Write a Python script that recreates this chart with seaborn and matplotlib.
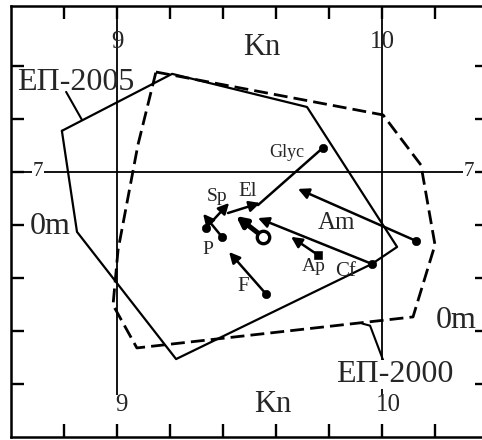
import numpy as np
import pandas as pd
import matplotlib.pyplot as plt
import seaborn as sns

# polygons of the two datasets (Kn on x, Om on y)
ep2005_kn = [8.792, 9.208, 9.717, 10.057, 9.962, 9.223, 8.849]
ep2005_om = [7.155, 7.370, 7.245, 6.717, 6.653, 6.294, 6.774]
ep2000_kn = [9.147, 10.004, 10.147, 10.200, 10.117, 9.075, 8.985, 9.004, 9.079]
ep2000_om = [7.377, 7.215, 7.026, 6.725, 6.453, 6.336, 6.498, 6.706, 7.102]

# shifts of the substances: start -> end
subst = ["Am", "Glyc", "El", "Sp", "P", "Ap", "Cf", "F", "O"]
kn_from = [10.128, 9.777, 9.419, 9.336, 9.396, 9.758, 9.962, 9.562, 9.551]
om_from = [6.740, 7.091, 6.845, 6.789, 6.755, 6.687, 6.653, 6.540, 6.755]
kn_to = [9.683, 9.532, 9.540, 9.423, 9.325, 9.657, 9.532, 9.423, 9.449]
om_to = [6.936, 6.875, 6.883, 6.883, 6.842, 6.755, 6.826, 6.698, 6.834]

x_ticks = [8.8, 9.0, 9.2, 9.4, 9.6, 9.8, 10.0, 10.2, 10.4]
y_ticks = [6.2, 6.4, 6.6, 6.8, 7.0, 7.2, 7.4]

sns.set_style("white")
plt.rcParams['font.family'] = ['Liberation Serif', 'DejaVu Serif']

fig = plt.figure(figsize=(4.82, 4.40), dpi=100)
ax = fig.add_axes([11 / 482, 3 / 440, 477 / 482, 431 / 440])
ax.set_xlim(8.6, 10.4)
ax.set_ylim(6.0, 7.626)

for s in ax.spines.values():
    s.set_color("black")
    s.set_linewidth(1.8)

ax.set_xticks(x_ticks)
ax.set_yticks(y_ticks)
ax.tick_params(direction="in", length=9.5, width=1.7, color="black",
               top=True, bottom=True, left=True, right=True,
               labelbottom=False, labelleft=False)

# reference lines
ax.vlines([9.0, 10.0], 6.16, 7.626, color="black", lw=1.3)
ax.axhline(7.0, color="black", lw=1.3)

# polygons
df05 = pd.DataFrame({"Kn": ep2005_kn + ep2005_kn[:1], "Om": ep2005_om + ep2005_om[:1]})
df00 = pd.DataFrame({"Kn": ep2000_kn + ep2000_kn[:1], "Om": ep2000_om + ep2000_om[:1]})
sns.lineplot(data=df05, x="Kn", y="Om", sort=False, estimator=None, ax=ax,
             color="black", lw=1.6)
sns.lineplot(data=df00, x="Kn", y="Om", sort=False, estimator=None, ax=ax,
             color="black", lw=2.0, linestyle=(0, (5.0, 2.2)))

# arrows
for name, x0, y0, x1, y1 in zip(subst, kn_from, om_from, kn_to, om_to):
    if name == "Glyc":
        ax.plot([x0, x1], [y0, y1], color="black", lw=1.8)
    elif name == "O":
        ax.annotate("", xy=(x1, y1), xytext=(x0, y0),
                    arrowprops=dict(arrowstyle="-|>", color="black", lw=3.6,
                                    mutation_scale=15, shrinkA=5, shrinkB=0))
    else:
        ax.annotate("", xy=(x1, y1), xytext=(x0, y0),
                    arrowprops=dict(arrowstyle="-|>", color="black", lw=1.8,
                                    mutation_scale=16, shrinkA=0, shrinkB=0))

pts = pd.DataFrame({"name": subst, "Kn": kn_from, "Om": om_from})
dots = pts[pts["name"].isin(["Am", "Glyc", "Sp", "P", "Cf", "F"])]
sns.scatterplot(data=dots, x="Kn", y="Om", ax=ax, color="black", s=36,
                edgecolor="black", zorder=5)
sq = pts[pts["name"] == "Ap"]
sns.scatterplot(data=sq, x="Kn", y="Om", ax=ax, color="black", s=30, marker="s",
                edgecolor="black", zorder=5)
op = pts[pts["name"] == "O"]
sns.scatterplot(data=op, x="Kn", y="Om", ax=ax, color="white", s=80,
                edgecolor="black", linewidth=2.4, zorder=6)

# substance labels
lab_pos = {"Glyc": (9.642, 7.072), "Sp": (9.377, 6.909), "El": (9.494, 6.925),
           "P": (9.343, 6.706), "F": (9.475, 6.566), "Ap": (9.743, 6.642),
           "Cf": (9.864, 6.623), "Am": (9.830, 6.808)}
lab_size = {"Glyc": 13, "Sp": 14, "El": 15, "P": 14, "F": 15, "Ap": 14,
            "Cf": 15, "Am": 18}
for k, (lx, ly) in lab_pos.items():
    ax.text(lx, ly, k, ha="center", va="center", fontsize=lab_size[k])

# axis texts inside the frame
ax.text(9.547, 7.468, "Kn", ha="center", va="center", fontsize=22)
ax.text(9.589, 6.121, "Kn", ha="center", va="center", fontsize=22)
ax.text(9.0, 7.491, "9", ha="center", va="center", fontsize=18)
ax.text(10.0, 7.491, "10", ha="center", va="center", fontsize=18)
ax.text(9.015, 6.121, "9", ha="center", va="center", fontsize=18)
ax.text(10.025, 6.121, "10", ha="center", va="center", fontsize=18)
wb = dict(facecolor="white", edgecolor="none", pad=0.5)
ax.text(8.702, 7.0, "7", ha="center", va="center", fontsize=15, bbox=wb)
ax.text(10.328, 7.0, "7", ha="center", va="center", fontsize=15, bbox=wb)
ax.text(8.672, 6.796, "0m", ha="left", va="center", fontsize=23)
ax.text(10.279, 6.441, "0m", ha="center", va="center", fontsize=23)

ax.text(8.845, 7.336, "ЕП-2005", ha="center", va="center", fontsize=23)
ax.plot([8.808, 8.868], [7.302, 7.196], color="black", lw=1.5)
ax.text(10.049, 6.234, "ЕП-2000", ha="center", va="center", fontsize=23,
        bbox=dict(facecolor="white", edgecolor="none", pad=0.0))
ax.plot([9.925, 9.955, 10.011], [6.428, 6.420, 6.272], color="black", lw=1.5)

ax.set_xlabel("")
ax.set_ylabel("")

fig.savefig("out.png", dpi=100)
